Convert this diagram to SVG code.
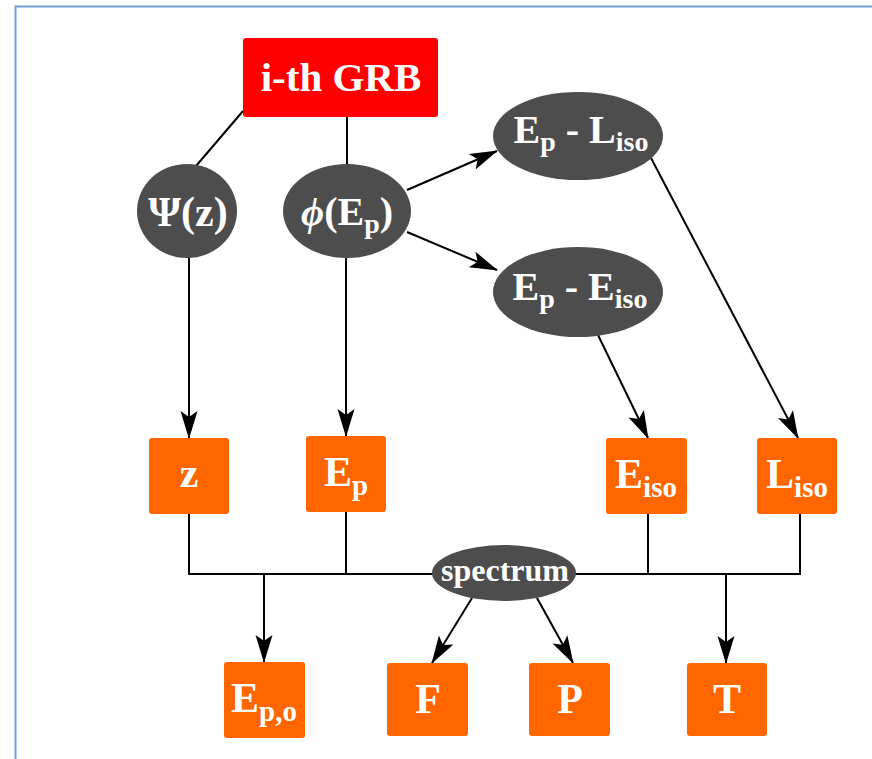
<svg xmlns="http://www.w3.org/2000/svg" width="872" height="759" viewBox="0 0 872 759">
<defs>
<marker id="ah" markerUnits="userSpaceOnUse" markerWidth="32" markerHeight="24" viewBox="-29 -12 32 24" refX="0" refY="0" orient="auto">
<path d="M1,0 L-27,-8.5 L-21,0 L-27,8.5 Z" fill="#000"/>
</marker>
</defs>
<style>
.t{font-family:"Liberation Serif","Times New Roman",serif;font-weight:bold;fill:#fff;text-anchor:middle}
.box{fill:#FF6600}
.ell{fill:#4D4D4D}
.c{stroke:#000;stroke-width:2;fill:none}
.a{stroke:#000;stroke-width:2;fill:none;marker-end:url(#ah)}
</style>
<rect x="0" y="0" width="872" height="759" fill="#fff"/>
<rect x="15.5" y="6.5" width="900" height="800" fill="none" stroke="#6F9FD8" stroke-width="2"/>
<g id="connectors">
<line class="c" x1="243" y1="111" x2="196" y2="166"/>
<line class="c" x1="347" y1="117" x2="347" y2="164"/>
<line class="a" x1="189" y1="257" x2="189" y2="438"/>
<line class="a" x1="346" y1="258" x2="346" y2="436"/>
<line class="a" x1="407" y1="190" x2="497" y2="151"/>
<line class="a" x1="407" y1="232" x2="497" y2="270"/>
<line class="a" x1="651" y1="158" x2="798" y2="438"/>
<line class="a" x1="598" y1="335" x2="648" y2="438"/>
<polyline class="c" points="189,514 189,574 800,574 800,514"/>
<line class="c" x1="346" y1="512" x2="346" y2="574"/>
<line class="c" x1="648" y1="514" x2="648" y2="574"/>
<line class="a" x1="264" y1="574" x2="264" y2="662"/>
<line class="a" x1="726" y1="574" x2="726" y2="663"/>
<line class="a" x1="472" y1="598" x2="432" y2="663"/>
<line class="a" x1="537" y1="598" x2="573" y2="663"/>
</g>
<g id="grb">
<rect x="243" y="38" width="195" height="79" rx="3" fill="#FF0000"/>
<text class="t" x="341" y="91" font-size="41">i-th GRB</text>
</g>
<g id="psi">
<ellipse class="ell" cx="187" cy="211" rx="50" ry="47"/>
<text class="t" x="188" y="226" font-size="42">Ψ(z)</text>
</g>
<g id="phi">
<ellipse class="ell" cx="347" cy="211" rx="64" ry="47"/>
<text class="t" x="347" y="225" font-size="40"><tspan font-style="italic">ϕ</tspan>(E<tspan font-size="28" dy="8">p</tspan><tspan dy="-8">)</tspan></text>
</g>
<g id="epliso">
<ellipse class="ell" cx="578" cy="136" rx="85" ry="44"/>
<text class="t" x="581" y="143" font-size="40">E<tspan font-size="28" dy="8">p</tspan><tspan dy="-8"> - L</tspan><tspan font-size="28" dy="8">iso</tspan></text>
</g>
<g id="epeiso">
<ellipse class="ell" cx="578" cy="292" rx="85" ry="45"/>
<text class="t" x="580" y="300" font-size="40">E<tspan font-size="28" dy="8">p</tspan><tspan dy="-8"> - E</tspan><tspan font-size="28" dy="8">iso</tspan></text>
</g>
<g id="z">
<rect class="box" x="149" y="438" width="80" height="76" rx="3"/>
<text class="t" x="189" y="487" font-size="42">z</text>
</g>
<g id="ep">
<rect class="box" x="306" y="436" width="80" height="76" rx="3"/>
<text class="t" x="346" y="486" font-size="42">E<tspan font-size="29" dy="9">p</tspan></text>
</g>
<g id="eiso">
<rect class="box" x="606" y="438" width="81" height="76" rx="3"/>
<text class="t" x="646" y="488" font-size="42">E<tspan font-size="29" dy="9">iso</tspan></text>
</g>
<g id="liso">
<rect class="box" x="757" y="438" width="80" height="76" rx="3"/>
<text class="t" x="797" y="488" font-size="42">L<tspan font-size="29" dy="9">iso</tspan></text>
</g>
<g id="spectrum">
<ellipse class="ell" cx="504" cy="573" rx="72" ry="28"/>
<text class="t" x="505" y="581" font-size="32">spectrum</text>
</g>
<g id="epo">
<rect class="box" x="224" y="662" width="81" height="76" rx="3"/>
<text class="t" x="264" y="712" font-size="42">E<tspan font-size="29" dy="9">p,o</tspan></text>
</g>
<g id="f">
<rect class="box" x="387" y="663" width="81" height="73" rx="3"/>
<text class="t" x="428" y="713" font-size="42">F</text>
</g>
<g id="p">
<rect class="box" x="529" y="663" width="81" height="73" rx="3"/>
<text class="t" x="570" y="713" font-size="42">P</text>
</g>
<g id="t">
<rect class="box" x="687" y="663" width="80" height="73" rx="3"/>
<text class="t" x="727" y="713" font-size="42">T</text>
</g>
</svg>
